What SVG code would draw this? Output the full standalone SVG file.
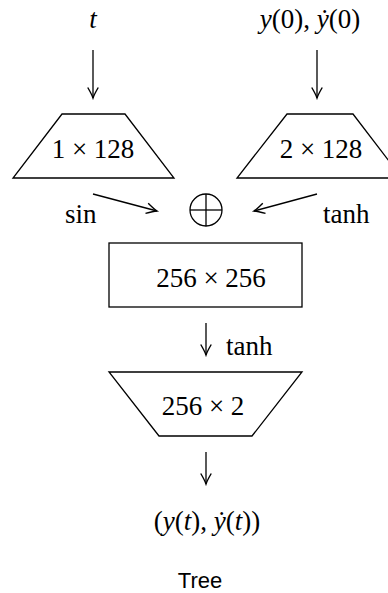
<svg xmlns="http://www.w3.org/2000/svg" width="388" height="593" viewBox="0 0 388 593">
<style>
.m{font-family:"Liberation Serif","Times New Roman",serif;font-size:27px;fill:#000}
.i{font-style:italic}
.c{text-anchor:middle}
.s{fill:none;stroke:#000;stroke-width:1.3}
.a{fill:none;stroke:#000;stroke-width:1.3;marker-end:url(#ah)}
.cap{font-family:"Liberation Sans",Arial,sans-serif;font-size:22px;fill:#000;text-anchor:middle}
</style>
<defs>
<marker id="ah" markerUnits="userSpaceOnUse" markerWidth="14" markerHeight="14" viewBox="-10 -6 12 12" refX="0" refY="0" orient="auto">
<path d="M -9 -4.5 Q -3 -1 0 0 Q -3 1 -9 4.5" fill="none" stroke="#000" stroke-width="1.2"/>
</marker>
</defs>
<rect width="388" height="593" fill="#fff"/>
<g id="connectors">
<line class="a" x1="93" y1="50" x2="93" y2="98"/>
<line class="a" x1="317" y1="50" x2="317" y2="98"/>
<line class="a" x1="93" y1="194" x2="157" y2="211"/>
<line class="a" x1="317" y1="194" x2="254" y2="211"/>
<line class="a" x1="206" y1="323" x2="206" y2="355"/>
<line class="a" x1="206" y1="452" x2="206" y2="484"/>
<text class="m" x="65" y="223">sin</text>
<text class="m" x="323" y="223">tanh</text>
<text class="m" x="226" y="355">tanh</text>
</g>
<g id="input-t"><text class="m i c" x="93" y="28">t</text></g>
<g id="input-y"><text class="m c" x="310" y="28"><tspan class="i">y</tspan>(0), <tspan class="i">ẏ</tspan>(0)</text></g>
<g id="layer-1x128">
<polygon class="s" points="62,114 125,114 174,178 13,178"/>
<text class="m c" x="93" y="158">1 × 128</text>
</g>
<g id="layer-2x128">
<polygon class="s" points="287,114 353,114 402,178 237,178"/>
<text class="m c" x="321" y="158">2 × 128</text>
</g>
<g id="oplus">
<circle class="s" cx="206" cy="210" r="16"/>
<line class="s" x1="190" y1="210" x2="222" y2="210"/>
<line class="s" x1="206" y1="194" x2="206" y2="226"/>
</g>
<g id="layer-256x256">
<rect class="s" x="109" y="243" width="193" height="64"/>
<text class="m c" x="211" y="287">256 × 256</text>
</g>
<g id="layer-256x2">
<polygon class="s" points="109,372 302,372 252,436 159,436"/>
<text class="m c" x="203" y="415">256 × 2</text>
</g>
<g id="output"><text class="m c" x="207" y="530">(<tspan class="i">y</tspan>(<tspan class="i">t</tspan>), <tspan class="i">ẏ</tspan>(<tspan class="i">t</tspan>))</text></g>
<g id="caption"><text class="cap" x="200" y="588">Tree</text></g>
</svg>
